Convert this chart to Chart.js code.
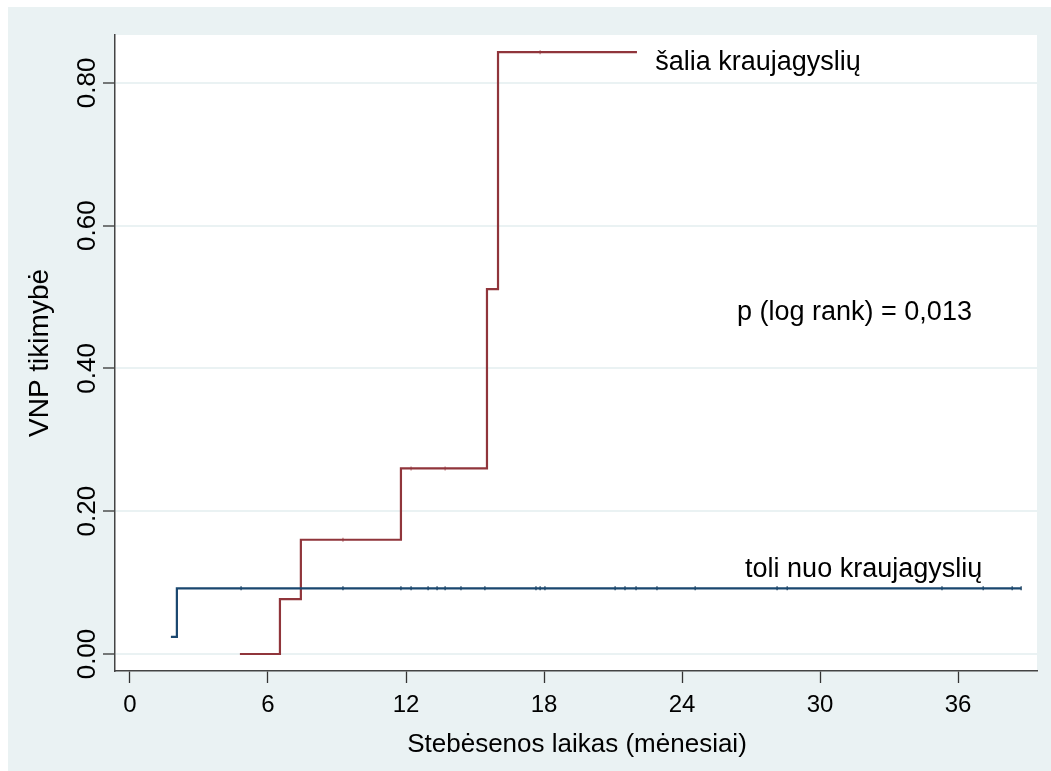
<!DOCTYPE html>
<html>
<head>
<meta charset="utf-8">
<style>
  html, body { margin: 0; padding: 0; background: #fff; }
  #wrap { width: 1051px; height: 771px; position: relative; }
</style>
<script src="https://cdn.jsdelivr.net/npm/chart.js@4"></script>
</head>
<body>
<div id="wrap"><canvas id="km"></canvas></div>
<script>
// Kaplan-Meier failure curves (months vs. probability)
const nearTimes = [4.78, 6.52, 7.43, 11.78, 15.52, 16.0, 22.04];
const nearProb = [0, 0.077, 0.16, 0.26, 0.511, 0.843, 0.843];
const nearCensorTimes = [9.26, 12.22, 13.70, 17.83];
const nearCensorProb = [0.16, 0.26, 0.26, 0.843];

const farTimes = [1.78, 2.04, 38.74];
const farProb = [0.024, 0.092, 0.092];
const farCensorTimes = [4.83, 9.26, 11.78, 12.22, 12.96, 13.35, 13.70, 14.39, 15.43,
  17.65, 17.83, 18.04, 21.09, 21.52, 22.0, 22.91, 24.57, 28.13, 28.57, 35.3, 37.09, 38.35, 38.74];
const farCensorProb = farCensorTimes.map(() => 0.092);

const xTicks = [0, 6, 12, 18, 24, 30, 36];
const yTicks = [0, 0.2, 0.4, 0.6, 0.8];
const yTickLabels = ['0.00', '0.20', '0.40', '0.60', '0.80'];

const xTitle = 'Stebėsenos laikas (mėnesiai)';
const yTitle = 'VNP tikimybė';
const notes = [
  { text: 'šalia kraujagyslių', x: 22.83, y: 0.829 },
  { text: 'p (log rank) = 0,013', x: 26.39, y: 0.478 },
  { text: 'toli nuo kraujagyslių', x: 26.74, y: 0.118 }
];

const RED = '#90353b';
const NAVY = '#1a476f';
const BG = '#eaf2f3';
const FONT = '"Liberation Sans", Arial, Helvetica, sans-serif';

const pts = (xs, ys) => xs.map((x, i) => ({ x, y: ys[i] }));

const decor = {
  id: 'decor',
  beforeDraw(chart) {
    const { ctx, chartArea: a } = chart;
    ctx.save();
    ctx.fillStyle = '#fff';
    ctx.fillRect(0, 0, chart.width, chart.height);
    ctx.fillStyle = BG;
    ctx.fillRect(8, 7, chart.width - 8, chart.height - 7);
    ctx.fillStyle = '#fff';
    ctx.fillRect(a.left, a.top, a.right - a.left, a.bottom - a.top);
    ctx.restore();
  },
  afterDraw(chart) {
    const { ctx, chartArea: a } = chart;
    const xs = chart.scales.x, ys = chart.scales.y;
    ctx.save();
    ctx.fillStyle = '#000';
    ctx.textAlign = 'center';
    ctx.textBaseline = 'middle';

    // x tick labels
    ctx.font = '24px ' + FONT;
    xTicks.forEach(v => ctx.fillText(String(v), xs.getPixelForValue(v), 705));

    // y tick labels, rotated
    ctx.font = '26px ' + FONT;
    yTicks.forEach((v, i) => {
      ctx.save();
      ctx.translate(88, ys.getPixelForValue(v));
      ctx.rotate(-Math.PI / 2);
      ctx.fillText(yTickLabels[i], 0, 0);
      ctx.restore();
    });

    // axis titles
    ctx.font = '26px ' + FONT;
    ctx.fillText(xTitle, (a.left + a.right) / 2 + 1, 745);
    ctx.save();
    ctx.translate(40, (a.top + a.bottom) / 2);
    ctx.rotate(-Math.PI / 2);
    ctx.font = '28px ' + FONT;
    ctx.fillText(yTitle, 0, 0);
    ctx.restore();

    // curve labels
    ctx.font = '27px ' + FONT;
    ctx.textAlign = 'left';
    notes.forEach(n => ctx.fillText(n.text, xs.getPixelForValue(n.x), ys.getPixelForValue(n.y)));
    ctx.restore();
  }
};

new Chart(document.getElementById('km'), {
  type: 'line',
  data: {
    datasets: [
      {
        data: pts(farTimes, farProb),
        borderColor: NAVY, borderWidth: 2.2, stepped: 'before',
        pointRadius: 0, fill: false
      },
      {
        data: pts(nearTimes, nearProb),
        borderColor: RED, borderWidth: 2.2, stepped: 'before',
        pointRadius: 0, fill: false
      },
      {
        data: pts(farCensorTimes, farCensorProb),
        showLine: false, pointStyle: 'line', rotation: 90,
        pointRadius: 2, borderColor: '#103554', borderWidth: 1.2
      },
      {
        data: pts(nearCensorTimes, nearCensorProb),
        showLine: false, pointStyle: 'line', rotation: 90,
        pointRadius: 2, borderColor: '#b8767b', borderWidth: 1.2
      }
    ]
  },
  options: {
    responsive: true,
    maintainAspectRatio: false,
    animation: false,
    layout: { padding: { left: 0, top: 35, right: 14, bottom: 0 } },
    plugins: { legend: { display: false }, tooltip: { enabled: false } },
    scales: {
      x: {
        type: 'linear', min: -0.65, max: 39.43,
        afterBuildTicks: s => { s.ticks = xTicks.map(v => ({ value: v })); },
        afterFit: s => { s.height = 100; },
        ticks: { display: false },
        grid: { drawOnChartArea: false, drawTicks: true, tickLength: 12, tickColor: '#333', tickWidth: 1.3 },
        border: { display: true, color: '#444', width: 1.5 }
      },
      y: {
        type: 'linear', min: -0.0238, max: 0.867,
        afterBuildTicks: s => { s.ticks = yTicks.map(v => ({ value: v })); },
        afterFit: s => { s.width = 115; },
        ticks: { display: false },
        grid: { drawOnChartArea: true, color: BG, lineWidth: 2, drawTicks: true, tickLength: 12, tickColor: '#333', tickWidth: 1.3 },
        border: { display: true, color: '#444', width: 1.5 }
      }
    }
  },
  plugins: [decor]
});
</script>
</body>
</html>
